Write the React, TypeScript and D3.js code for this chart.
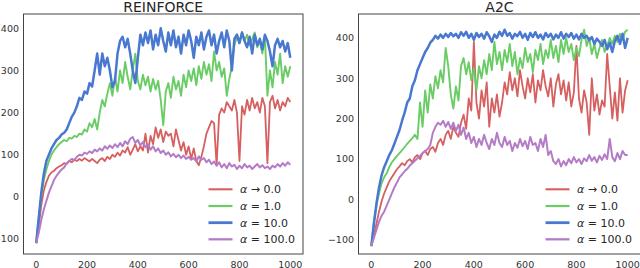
import React from 'react';
import * as d3 from 'd3';

// episodes sampled every 10
const episodes = d3.range(0, 1001, 10);

const legendLabels = ['\u2192 0.0', '= 1.0', '= 10.0', '= 100.0'];
const colors = ['#d65f5f', '#6acc65', '#4878cf', '#b47cc7'];
const widths = [1.8, 1.9, 2.5, 2.0];
const xTicks = [0, 200, 400, 600, 800, 1000];
const yTicks = [-100, 0, 100, 200, 300, 400];

// REINFORCE
const reinforceA0 = [
  -110, -70, -20, 15, 35, 50, 58, 62, 68, 72,
  75, 80, 78, 85, 82, 88, 85, 90, 86, 92,
  88, 84, 90, 85, 80, 88, 92, 85, 95, 90,
  100, 95, 105, 98, 110, 105, 118, 100, 112, 125,
  108, 120, 110, 150, 105, 145, 125, 165, 140, 160,
  130, 155, 145, 150, 120, 160, 135, 110, 130, 100,
  120, 90, 115, 85, 75, 95, 120, 150, 165, 180,
  175, 75, 195, 210, 200, 225, 215, 205, 230, 200,
  85, 215, 195, 230, 205, 235, 210, 225, 200, 235,
  215, 80, 225, 240, 210, 230, 205, 225, 215, 235,
  225,
];
const reinforceA1 = [
  -110, -50, 0, 40, 65, 85, 100, 110, 118, 125,
  130, 135, 132, 140, 138, 145, 142, 150, 148, 160,
  155, 175, 165, 185, 160, 200, 230, 215, 245, 270,
  240, 285, 250, 300, 270, 320, 285, 255, 300, 340,
  275, 255, 290, 265, 285, 250, 280, 255, 275, 230,
  170, 250, 270, 235, 285, 255, 275, 240, 290, 260,
  300, 275, 305, 265, 310, 280, 320, 290, 315, 275,
  345, 300, 320, 285, 305, 240, 280, 310, 360, 380,
  365, 390, 370, 385, 360, 375, 390, 355, 370, 340,
  380, 240, 300, 260, 320, 290, 340, 270, 310, 285,
  310,
];
const reinforceA10 = [
  -110, -50, 10, 55, 85, 100, 115, 125, 135, 140,
  148, 152, 160, 175, 190, 200, 215, 235, 230, 250,
  245, 270, 262, 300, 340, 290, 340, 310, 330, 300,
  260, 275, 340, 370, 380, 355, 375, 340, 300, 270,
  330, 385, 360, 390, 365, 395, 350, 385, 360, 400,
  370, 345, 390, 360, 395, 355, 380, 340, 385, 360,
  395, 370, 330, 380, 360, 390, 350, 380, 395, 360,
  385, 340, 370, 390, 355, 395, 370, 300, 375, 385,
  365, 390, 370, 355, 380, 340, 385, 360, 375, 350,
  385, 370, 345, 310, 360, 375, 355, 370, 345, 365,
  330,
];
const reinforceA100 = [
  -110, -85, -55, -30, -10, 10, 25, 40, 50, 58,
  65, 70, 80, 85, 90, 88, 95, 100, 98, 105,
  102, 108, 104, 112, 108, 115, 110, 120, 114, 122,
  116, 125, 118, 128, 120, 132, 125, 138, 142, 128,
  135, 122, 130, 118, 125, 112, 120, 108, 115, 104,
  110, 100, 106, 96, 102, 94, 100, 92, 98, 90,
  95, 88, 92, 84, 96, 88, 92, 82, 88, 78,
  84, 74, 82, 70, 78, 68, 80, 72, 76, 66,
  74, 68, 78, 70, 74, 66, 72, 78, 70, 75,
  68, 72, 66, 74, 70, 78, 72, 80, 74, 82,
  76,
];

// A2C
const a2cA0 = [
  -115, -90, -60, -30, -5, 15, 30, 45, 55, 65,
  75, 82, 90, 85, 95, 100, 92, 105, 110, 100,
  115, 120, 110, 125, 130, 118, 140, 150, 135, 160,
  170, 150, 180, 165, 155, 190, 210, 175, 250, 220,
  390, 240, 200, 270, 230, 290, 180, 250, 215, 260,
  205, 240, 290, 260, 315, 270, 300, 255, 320, 280,
  250, 300, 265, 310, 240, 295, 270, 320, 280, 255,
  300, 230, 285, 310, 260, 295, 245, 290, 230, 265,
  380, 250, 215, 270, 240, 160, 300, 220, 260, 210,
  245, 230, 360, 280, 200, 265, 195, 300, 215, 270,
  295,
];
const a2cA1 = [
  -115, -55, -15, 15, 40, 55, 65, 80, 92, 100,
  108, 115, 122, 130, 138, 145, 152, 160, 150, 240,
  180, 270, 215, 285, 250, 305, 275, 320, 290, 375,
  330, 260, 225, 280, 245, 330, 350, 310, 340, 295,
  325, 270, 330, 300, 345, 310, 360, 320, 390, 335,
  365, 320, 370, 340, 385, 330, 365, 310, 350, 325,
  375, 340, 360, 315, 370, 345, 385, 335, 370, 350,
  395, 350, 380, 340, 395, 360, 400, 365, 385, 345,
  375, 355, 395, 420, 380, 400, 360, 385, 350, 375,
  395, 365, 380, 400, 385, 405, 390, 410, 395, 415,
  420,
];
const a2cA10 = [
  -115, -60, -10, 30, 60, 80, 95, 110, 122, 138,
  155, 172, 195, 215, 240, 250, 280, 295, 320, 335,
  350, 365, 375, 388, 395, 405, 398, 408, 400, 410,
  402, 412, 404, 410, 400, 414, 405, 415, 400, 410,
  395, 412, 402, 410, 398, 414, 404, 390, 408, 400,
  415, 405, 420, 405, 412, 398, 410, 404, 415, 400,
  410, 395, 412, 402, 414, 400, 408, 396, 412, 402,
  410, 396, 408, 400, 414, 398, 410, 402, 412, 398,
  408, 396, 410, 400, 405, 394, 402, 385, 398, 390,
  380, 395, 372, 388, 365, 392, 405, 385, 410, 375,
  400,
];
const a2cA100 = [
  -115, -95, -75, -55, -40, -30, -15, 0, 15, 30,
  42, 55, 62, 70, 76, 84, 90, 96, 102, 108,
  115, 120, 125, 135, 165, 180, 190, 185, 195, 180,
  192, 175, 190, 170, 185, 160, 178, 150, 165, 140,
  155, 130, 150, 135, 160, 140, 125, 150, 135, 165,
  140, 130, 155, 135, 145, 120, 140, 128, 150, 132,
  145, 125, 155, 135, 140, 120, 150, 130, 160, 110,
  120, 95, 88, 100, 82, 95, 85, 100, 90, 105,
  92, 100, 88, 102, 95, 110, 96, 105, 92, 108,
  98, 112, 100, 150, 105, 95, 115, 100, 120, 110,
  110,
];

const panels = [
  { title: 'REINFORCE', series: [reinforceA0, reinforceA1, reinforceA10, reinforceA100], left: 23.5, right: 303, yDomain: [-135.6, 434], legendX: 208.5 },
  { title: 'A2C', series: [a2cA0, a2cA1, a2cA10, a2cA100], left: 358.5, right: 640.5, yDomain: [-134.7, 459], legendX: 545.5 },
];

const top = 14;
const bottom = 254;
const font = '"DejaVu Sans", sans-serif';
const legendRows = [189.3, 206, 222.7, 239.3];

const Panel = ({ p, i }) => {
  const x = d3.scaleLinear().domain([-50, 1050]).range([p.left, p.right]);
  const y = d3.scaleLinear().domain(p.yDomain).range([bottom, top]);
  const line = d3
    .line<number>()
    .x((d, k) => x(episodes[k]))
    .y((d) => y(d));
  const clipId = `clip-${i}`;
  return (
    <g>
      <defs>
        <clipPath id={clipId}>
          <rect x={p.left} y={top} width={p.right - p.left} height={bottom - top} />
        </clipPath>
      </defs>
      <rect x={p.left} y={top} width={p.right - p.left} height={bottom - top} fill="#fff" />
      <g clipPath={`url(#${clipId})`}>
        {p.series.map((s, k) => (
          <path
            key={k}
            d={line(s)}
            fill="none"
            stroke={colors[k]}
            strokeWidth={widths[k]}
            strokeLinejoin="round"
          />
        ))}
      </g>
      <rect
        x={p.left}
        y={top}
        width={p.right - p.left}
        height={bottom - top}
        fill="none"
        stroke="#444"
        strokeWidth={1}
      />
      <text x={(p.left + p.right) / 2} y={11.8} textAnchor="middle" fontFamily={font} fontSize={14} fill="#262626">
        {p.title}
      </text>
      {xTicks.map((t) => (
        <text key={t} x={x(t)} y={267.5} textAnchor="middle" fontFamily={font} fontSize={9.5} fill="#333">
          {t}
        </text>
      ))}
      {yTicks.map((t) => (
        <text key={t} x={p.left - 4.5} y={y(t)} dy="0.35em" textAnchor="end" fontFamily={font} fontSize={9.5} fill="#333">
          {t < 0 ? `\u2212${-t}` : t}
        </text>
      ))}
      {legendLabels.map((lab, k) => (
        <g key={k}>
          <line
            x1={p.legendX}
            x2={p.legendX + 24}
            y1={legendRows[k]}
            y2={legendRows[k]}
            stroke={colors[k]}
            strokeWidth={widths[k] + 0.3}
          />
          <text x={p.legendX + 31.5} y={legendRows[k]} dy="0.36em" fontFamily={font} fontSize={11} fill="#262626">
            <tspan fontStyle="italic">{'\u03b1'}</tspan>
            {' ' + lab}
          </text>
        </g>
      ))}
    </g>
  );
};

export default function App() {
  return (
    <svg width={640} height={268} style={{ position: 'absolute', left: 0, top: 0, background: '#fff' }}>
      <rect width={640} height={268} fill="#fff" />
      {panels.map((p, i) => (
        <Panel key={p.title} p={p} i={i} />
      ))}
    </svg>
  );
}
